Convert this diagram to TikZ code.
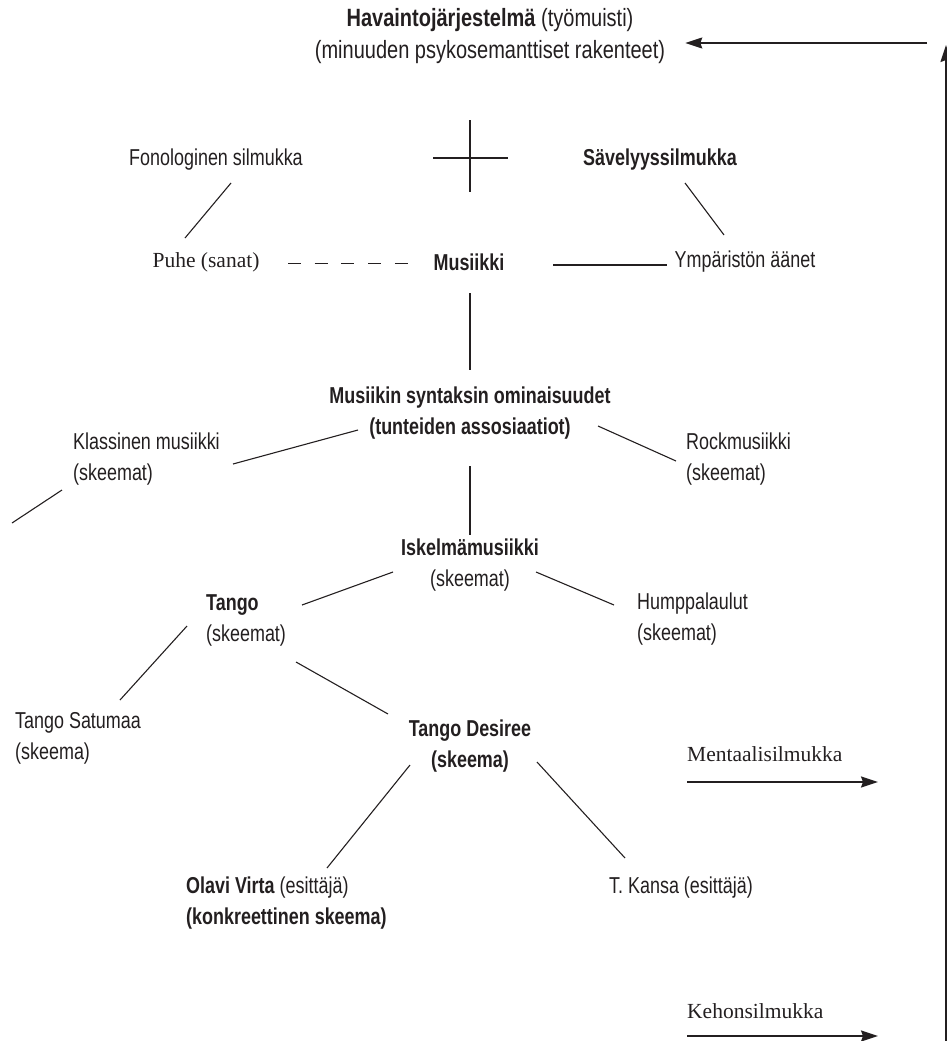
\documentclass[tikz,border=0pt]{standalone}
\usepackage{fontspec}
\setmainfont{Liberation Sans}[FakeStretch=0.78]
\newfontfamily\titleface{Liberation Sans}[FakeStretch=0.80]
\newfontfamily\serifface{Liberation Serif}
\usetikzlibrary{arrows.meta}
\definecolor{ink}{HTML}{231F20}
\begin{document}
\begin{tikzpicture}[x=1pt,y=-1pt,
  every node/.style={inner sep=0pt, text=ink},
  lbl/.style={font=\fontsize{23}{31}\selectfont, align=center},
  lbll/.style={font=\fontsize{23}{31}\selectfont, align=left, anchor=west},
  serl/.style={font=\serifface\fontsize{21.5}{31}\selectfont, anchor=west},
  link/.style={draw=ink, line width=1.1pt},
  flow/.style={draw=ink, line width=1.6pt, -{Stealth[length=17pt,width=11pt,inset=2pt]}}]
\useasboundingbox (0,0) rectangle (947,1041);

% top: working memory and its feedback loop
\node[align=center, font=\titleface\fontsize{25}{32}\selectfont] (title) at (490,36)
  {\textbf{Havaintojärjestelmä} (työmuisti)\\(minuuden psykosemanttiset rakenteet)};
\coordinate (loopin) at (927,43);
\coordinate (loopbase) at (946,1041);
\coordinate (looptop) at (946,45);
\draw[flow] (loopin) -- ([shift={(20,7)}]title.east);
\draw[flow] (loopbase) -- (looptop);

% cross between the two loops
\coordinate (cross) at (470,158);
\draw[link] ([shift={(0,-38)}]cross) -- ([shift={(0,34)}]cross);
\draw[link] ([shift={(-37,0)}]cross) -- ([shift={(38,0)}]cross);

% loops and sound sources
\node[lbl] (fono) at (216,160) {Fonologinen silmukka};
\node[lbl] (savel) at (660,160) {\textbf{Sävelyyssilmukka}};
\node[font=\serifface\fontsize{21.5}{31}\selectfont] (puhe) at (206,262) {Puhe (sanat)};
\node[lbl] (musiikki) at (469,262) {\textbf{Musiikki}};
\node[lbl] (ymp) at (745,262) {Ympäristön äänet};

\draw[link] ([shift={(15,23)}]fono.center) -- ([shift={(-21,-24)}]puhe.center);
\draw[link] ([shift={(25,23)}]savel.center) -- ([shift={(-21,-27)}]ymp.center);
\draw[link, line width=0.9pt, dash pattern=on 13pt off 13.7pt] ([shift={(82,1)}]puhe.center) -- ([shift={(-61,1)}]musiikki.center);
\draw[link] ([shift={(84,3)}]musiikki.center) -- ([shift={(-78,3)}]ymp.center);

% syntax and genres
\node[lbl] (syntax) at (470,413) {\textbf{Musiikin syntaksin ominaisuudet}\\\textbf{(tunteiden assosiaatiot)}};
\node[lbll] (klass) at (73,459) {Klassinen musiikki\\(skeemat)};
\node[lbll] (rock) at (686,459) {Rockmusiikki\\(skeemat)};
\coordinate (klassout) at (12,523);

\draw[link] ([shift={(1,31)}]musiikki.center) -- ([shift={(0,-43)}]syntax.center);
\draw[link] ([shift={(-112,17)}]syntax.center) -- ([shift={(160,5)}]klass.west);
\draw[link] ([shift={(-11,31)}]klass.west) -- (klassout);
\draw[link] ([shift={(128,13)}]syntax.center) -- ([shift={(-10,2)}]rock.west);

\node[lbl] (iskelma) at (470,565) {\textbf{Iskelmämusiikki}\\(skeemat)};
\node[lbll] (humppa) at (637,619) {Humppalaulut\\(skeemat)};
\node[lbll] (tango) at (206,620) {\textbf{Tango}\\(skeemat)};

\draw[link] ([shift={(0,53)}]syntax.center) -- ([shift={(0,-30)}]iskelma.center);
\draw[link] ([shift={(-77,7)}]iskelma.center) -- ([shift={(96,-15)}]tango.west);
\draw[link] ([shift={(66,7)}]iskelma.center) -- ([shift={(-23,-14)}]humppa.west);

% songs and performers
\node[lbll] (satumaa) at (15,738) {Tango Satumaa\\(skeema)};
\node[lbl] (desiree) at (470,746) {\textbf{Tango Desiree}\\\textbf{(skeema)}};
\node[lbll] (olavi) at (186,903) {\textbf{Olavi Virta} (esittäjä)\\\textbf{(konkreettinen skeema)}};
\node[lbll] (kansa) at (609,888) {T. Kansa (esittäjä)};

\draw[link] ([shift={(-19,6)}]tango.west) -- ([shift={(105,-38)}]satumaa.west);
\draw[link] ([shift={(90,42)}]tango.west) -- ([shift={(-82,-32)}]desiree.center);
\draw[link] ([shift={(-60,19)}]desiree.center) -- ([shift={(141,-35)}]olavi.west);
\draw[link] ([shift={(67,16)}]desiree.center) -- ([shift={(16,-30)}]kansa.west);

% outgoing loops
\node[serl] (mental) at (687,754) {Mentaalisilmukka};
\node[serl] (keho) at (687,1011) {Kehonsilmukka};
\draw[flow] ([shift={(0,28)}]mental.west) -- ++(191,0);
\draw[flow] ([shift={(0,25)}]keho.west) -- ++(191,0);
\end{tikzpicture}
\end{document}
